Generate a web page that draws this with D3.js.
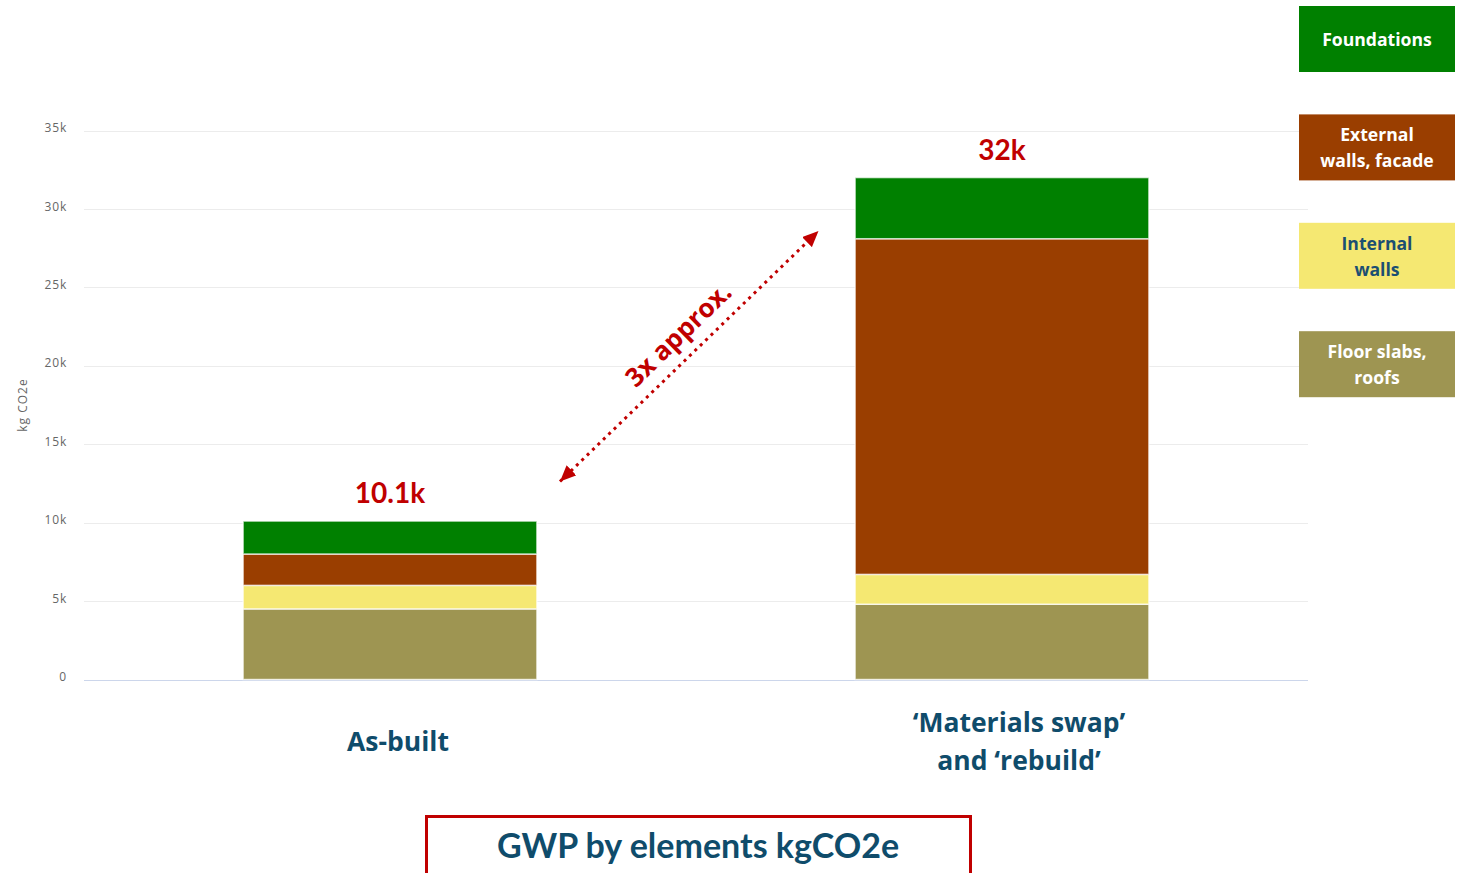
<!DOCTYPE html>
<html>
<head>
<meta charset="utf-8">
<script src="https://cdn.jsdelivr.net/npm/d3@7"></script>
<style>
  html, body { margin: 0; padding: 0; background: #fff; }
  svg { display: block; }
</style>
</head>
<body>
<svg id="chart" width="1466" height="873"></svg>
<script>
// Scenarios (x categories), each drawn as a stacked column
const categories = ["As-built", "Materials swap and rebuild"];
const categoryLines = [["As-built"], ["‘Materials swap’", "and ‘rebuild’"]];

// Element series, bottom of the stack first (kg CO2e)
const seriesKeys = ["floor", "internal", "external", "foundations"];
const seriesNames = ["Floor slabs, roofs", "Internal walls", "External walls, facade", "Foundations"];
const floorSlabs = [4500, 4800];
const internalWalls = [1500, 1900];
const externalWalls = [2000, 21400];
const foundations = [2100, 3900];

const seriesColors = ["#9e9552", "#f5e872", "#9a3e00", "#008000"];
const legendTextColors = ["#ffffff", "#1b4f72", "#ffffff", "#ffffff"];
const legendLines = [["Floor slabs,", "roofs"], ["Internal", "walls"], ["External", "walls, facade"], ["Foundations"]];

const yTicks = [0, 5000, 10000, 15000, 20000, 25000, 30000, 35000];
const yTitle = "kg CO2e";
const arrowText = "3x approx.";
const chartTitle = "GWP by elements kgCO2e";

const rows = categories.map((c, i) => ({
  category: c,
  floor: floorSlabs[i],
  internal: internalWalls[i],
  external: externalWalls[i],
  foundations: foundations[i]
}));

const svg = d3.select("#chart");
const fontA = "Lato, 'Open Sans', sans-serif";
const fontB = "'Open Sans', Lato, sans-serif";
const plot = { left: 84, right: 1308, top: 130.5, bottom: 679.5 };

const x = d3.scaleBand()
  .domain(categories)
  .range([plot.left, plot.right])
  .paddingInner(0.52)
  .paddingOuter(0.26);

const y = d3.scaleLinear()
  .domain([0, 35000])
  .range([plot.bottom, plot.top]);

// Horizontal grid
svg.append("g")
  .selectAll("line")
  .data(yTicks)
  .join("line")
  .attr("x1", plot.left)
  .attr("x2", plot.right)
  .attr("y1", d => Math.round(y(d)) + 0.5)
  .attr("y2", d => Math.round(y(d)) + 0.5)
  .attr("stroke", d => d === 0 ? "#ccd6eb" : "#ececec")
  .attr("stroke-width", 1);

// Y axis labels
const yAxis = d3.axisLeft(y)
  .tickValues(yTicks)
  .tickSize(0)
  .tickPadding(17)
  .tickFormat(d => d === 0 ? "0" : (d / 1000) + "k");

const yg = svg.append("g")
  .attr("transform", `translate(${plot.left},0)`)
  .call(yAxis);
yg.select(".domain").remove();
yg.selectAll("text")
  .attr("fill", "#666")
  .style("font-family", fontB)
  .style("font-size", "12px")
  .style("letter-spacing", "0.8px")
  .attr("dy", "0.1em");

svg.append("text")
  .attr("transform", `translate(27,405) rotate(-90)`)
  .attr("text-anchor", "middle")
  .attr("fill", "#666")
  .style("font-family", fontB)
  .style("font-size", "12px")
  .style("letter-spacing", "1px")
  .text(yTitle);

// Stacked columns
const stack = d3.stack().keys(seriesKeys);
const stacked = stack(rows);

svg.append("g")
  .selectAll("g")
  .data(stacked)
  .join("g")
  .attr("fill", (d, i) => seriesColors[i])
  .selectAll("rect")
  .data(d => d)
  .join("rect")
  .attr("x", d => x(d.data.category))
  .attr("width", x.bandwidth())
  .attr("y", d => y(d[1]))
  .attr("height", d => y(d[0]) - y(d[1]))
  .attr("stroke", "rgba(255,255,255,0.7)")
  .attr("stroke-width", 1.5);

// Totals above each column
const totals = rows.map(r => seriesKeys.reduce((s, k) => s + r[k], 0));
const fmtK = v => {
  const k = Math.round(v / 100) / 10;
  return (Number.isInteger(k) ? k.toFixed(0) : k.toFixed(1)) + "k";
};
svg.append("g")
  .selectAll("text")
  .data(rows)
  .join("text")
  .attr("x", d => x(d.category) + x.bandwidth() / 2)
  .attr("y", (d, i) => y(totals[i]) - 18)
  .attr("text-anchor", "middle")
  .attr("fill", "#c00000")
  .style("font-family", fontA)
  .style("font-weight", "bold")
  .style("font-size", "28px")
  .text((d, i) => fmtK(totals[i]));

// Category labels under the axis
svg.append("g")
  .selectAll("text")
  .data(categories)
  .join("text")
  .attr("text-anchor", "middle")
  .attr("fill", "#0f4c6b")
  .style("font-family", fontB)
  .style("font-weight", "bold")
  .style("font-size", "26.5px")
  .each(function (d, i) {
    const lines = categoryLines[i];
    d3.select(this).selectAll("tspan")
      .data(lines)
      .join("tspan")
      .attr("x", x(d) + x.bandwidth() / 2 + (lines.length > 1 ? 17 : 8))
      .attr("y", (l, j) => 751 + (j - (lines.length - 1) / 2) * 38.5)
      .text(l => l);
  });

// Legend boxes on the right, top to bottom = top of stack first
const legendOrder = d3.range(seriesKeys.length).reverse();
const lg = svg.append("g")
  .selectAll("g")
  .data(legendOrder)
  .join("g")
  .attr("transform", (d, j) => `translate(1299,${6 + j * 108.4})`);
lg.append("rect")
  .attr("width", 156)
  .attr("height", 66)
  .attr("fill", d => seriesColors[d]);
lg.append("text")
  .attr("text-anchor", "middle")
  .attr("fill", d => legendTextColors[d])
  .style("font-family", fontB)
  .style("font-weight", "bold")
  .style("font-size", "17.6px")
  .each(function (d) {
    const lines = legendLines[d];
    d3.select(this).selectAll("tspan")
      .data(lines)
      .join("tspan")
      .attr("x", 78)
      .attr("y", (l, j) => 33 + 7 + (j - (lines.length - 1) / 2) * 26)
      .text(l => l);
  });

// Double-headed dotted arrow between the two totals
const defs = svg.append("defs");
defs.append("marker")
  .attr("id", "tri")
  .attr("viewBox", "0 0 16 14")
  .attr("refX", 16)
  .attr("refY", 7)
  .attr("markerWidth", 16)
  .attr("markerHeight", 14)
  .attr("markerUnits", "userSpaceOnUse")
  .attr("orient", "auto-start-reverse")
  .append("path")
  .attr("d", "M0,0 L16,7 L0,14 Z")
  .attr("fill", "#c00000");

const a0 = { x: 560, y: 481.5 };
const a1 = { x: 818.5, y: 231 };
svg.append("line")
  .attr("x1", a0.x).attr("y1", a0.y)
  .attr("x2", a1.x).attr("y2", a1.y)
  .attr("stroke", "#c00000")
  .attr("stroke-width", 3)
  .attr("stroke-dasharray", "3 4.5")
  .attr("marker-start", "url(#tri)")
  .attr("marker-end", "url(#tri)");

const ang = Math.atan2(a1.y - a0.y, a1.x - a0.x) * 180 / Math.PI;
const t = 0.52;
svg.append("text")
  .attr("transform", `translate(${a0.x + (a1.x - a0.x) * t},${a0.y + (a1.y - a0.y) * t}) rotate(${ang})`)
  .attr("y", -14)
  .attr("text-anchor", "middle")
  .attr("fill", "#c00000")
  .style("font-family", fontB)
  .style("font-weight", "bold")
  .style("font-size", "26px")
  .text(arrowText);

// Title frame
svg.append("rect")
  .attr("x", 426.5)
  .attr("y", 816.5)
  .attr("width", 544)
  .attr("height", 90)
  .attr("fill", "none")
  .attr("stroke", "#c00000")
  .attr("stroke-width", 3);
svg.append("text")
  .attr("x", 698)
  .attr("y", 858)
  .attr("text-anchor", "middle")
  .attr("fill", "#0f4c6b")
  .style("font-family", fontA)
  .style("font-weight", "bold")
  .style("font-size", "34px")
  .text(chartTitle);
</script>
</body>
</html>
